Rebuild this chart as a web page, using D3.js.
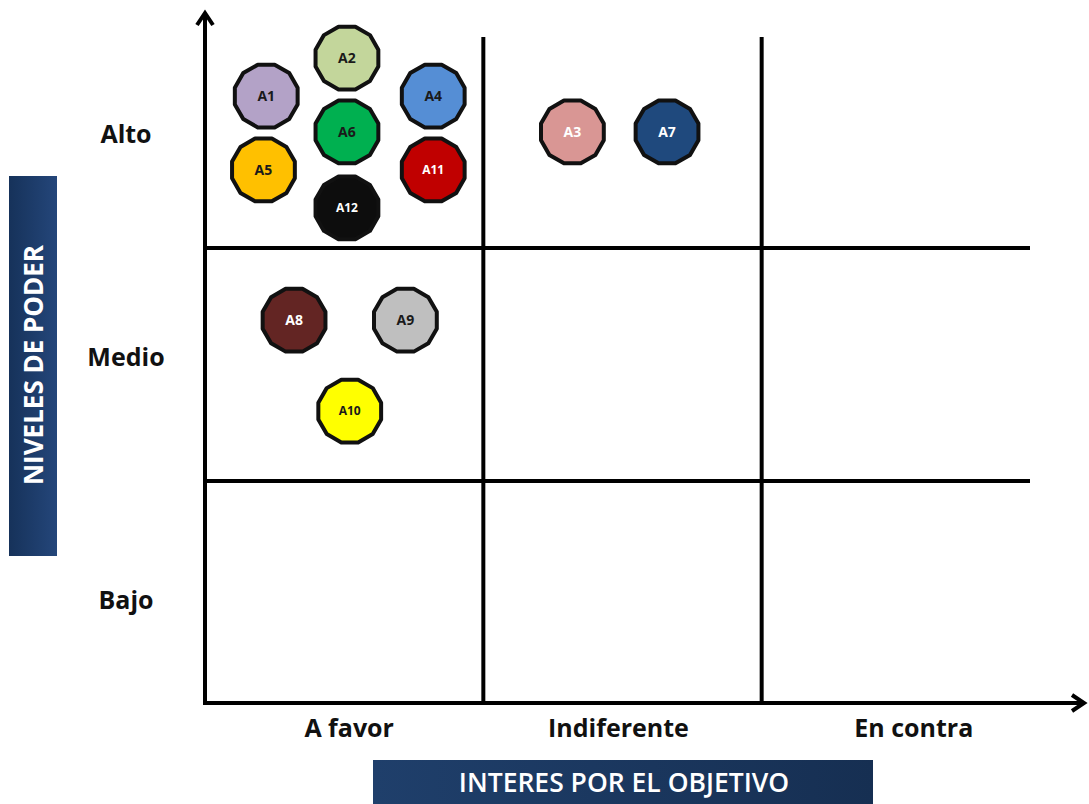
<!DOCTYPE html>
<html>
<head>
<meta charset="utf-8">
<script src="https://cdn.jsdelivr.net/npm/d3@7"></script>
<style>
  body { margin: 0; background: #fff; }
  text { font-family: "Open Sans", Lato, sans-serif; }
</style>
</head>
<body>
<script>
// power levels (bottom to top) and interest levels (left to right)
let powerLevels = ["Bajo", "Medio", "Alto"];
let interestLevels = ["A favor", "Indiferente", "En contra"];

// stakeholders: interest (0..3) and power (0..3) positions inside the grid
let actorNames = ["A1", "A2", "A3", "A4", "A5", "A6", "A7", "A8", "A9", "A10", "A11", "A12"];
let actorInterest = [0.22, 0.51, 1.32, 0.82, 0.21, 0.51, 1.66, 0.32, 0.72, 0.52, 0.82, 0.51];
let actorPower = [2.72, 2.90, 2.55, 2.72, 2.37, 2.55, 2.55, 1.69, 1.69, 1.30, 2.37, 2.19];
let actorColors = ["#b3a2c7", "#c3d69b", "#d99694", "#558ed5", "#ffc000", "#00b050",
                   "#1f497d", "#632523", "#bfbfbf", "#ffff00", "#c00000", "#0d0d0d"];
let actorTextColors = ["#1a1a1a", "#1a1a1a", "#ffffff", "#1a1a1a", "#1a1a1a", "#1a1a1a",
                       "#ffffff", "#ffffff", "#1a1a1a", "#1a1a1a", "#ffffff", "#ffffff"];

let width = 1089, height = 804;

let svg = d3.select("body").append("svg")
    .attr("width", width)
    .attr("height", height);

// scales (rows are not all the same height in the original)
let x = d3.scaleLinear().domain([0, 3]).range([205, 1040]);
let y = d3.scaleLinear().domain([0, 1, 2, 3]).range([703, 481, 248, 37]);

// label boxes gradient
let defs = svg.append("defs");
let gradV = defs.append("linearGradient").attr("id", "boxGradV")
    .attr("x1", "0%").attr("y1", "0%").attr("x2", "100%").attr("y2", "0%");
gradV.append("stop").attr("offset", "0%").attr("stop-color", "#16325a");
gradV.append("stop").attr("offset", "100%").attr("stop-color", "#24467a");
let gradH = defs.append("linearGradient").attr("id", "boxGradH")
    .attr("x1", "0%").attr("y1", "0%").attr("x2", "100%").attr("y2", "0%");
gradH.append("stop").attr("offset", "0%").attr("stop-color", "#1f3f6b");
gradH.append("stop").attr("offset", "100%").attr("stop-color", "#162f52");

/////////////// grid lines //////////////////
let grid = svg.append("g").attr("class", "grid")
    .attr("stroke", "#000").attr("stroke-width", 4);

grid.selectAll("line.v")
    .data([1, 2]).enter().append("line")
    .attr("class", "v")
    .attr("x1", d => x(d)).attr("x2", d => x(d))
    .attr("y1", y(3)).attr("y2", y(0));

grid.selectAll("line.h")
    .data([1, 2]).enter().append("line")
    .attr("class", "h")
    .attr("x1", x(0)).attr("x2", x(3) - 10)
    .attr("y1", d => y(d)).attr("y2", d => y(d));

/////////////// axes with arrows //////////////////
let axes = svg.append("g").attr("class", "axes")
    .attr("stroke", "#000").attr("stroke-width", 4)
    .attr("fill", "none").attr("stroke-linecap", "butt");

// vertical axis
axes.append("line")
    .attr("x1", x(0)).attr("x2", x(0))
    .attr("y1", y(0) + 2).attr("y2", 13);
axes.append("path")
    .attr("d", "M" + (x(0) - 8) + ",25L" + x(0) + ",13L" + (x(0) + 8) + ",25")
    .attr("stroke-linejoin", "miter");

// horizontal axis
axes.append("line")
    .attr("x1", x(0) - 2).attr("x2", 1084)
    .attr("y1", y(0)).attr("y2", y(0));
axes.append("path")
    .attr("d", "M1072," + (y(0) - 8) + "L1084," + y(0) + "L1072," + (y(0) + 8))
    .attr("stroke-linejoin", "miter");

/////////////// tick labels //////////////////
svg.append("g").selectAll("text")
    .data(powerLevels).enter().append("text")
    .attr("x", 126)
    .attr("y", (d, i) => y(i + 0.5) + [8, -7, -8][i])
    .attr("dy", "0.35em")
    .attr("text-anchor", "middle")
    .style("font-weight", "bold")
    .style("font-size", "25px")
    .attr("fill", "#111")
    .text(d => d);

svg.append("g").selectAll("text")
    .data(interestLevels).enter().append("text")
    .attr("x", (d, i) => x(i + 0.5) + [5, -4, 13][i])
    .attr("y", 728)
    .attr("dy", "0.35em")
    .attr("text-anchor", "middle")
    .style("font-weight", "bold")
    .style("font-size", "25px")
    .attr("fill", "#111")
    .text(d => d);

/////////////// axis titles //////////////////
svg.append("rect")
    .attr("x", 9).attr("y", 176)
    .attr("width", 48).attr("height", 380)
    .attr("fill", "url(#boxGradV)");
svg.append("text")
    .attr("transform", "translate(34,365) rotate(-90)")
    .attr("dy", "0.35em")
    .attr("text-anchor", "middle")
    .style("font-weight", "bold")
    .style("font-size", "26px")
    .attr("fill", "#fff")
    .text("NIVELES DE PODER");

svg.append("rect")
    .attr("x", 373).attr("y", 760)
    .attr("width", 500).attr("height", 44)
    .attr("fill", "url(#boxGradH)");
svg.append("text")
    .attr("x", 624).attr("y", 783)
    .attr("dy", "0.35em")
    .attr("text-anchor", "middle")
    .style("font-weight", 600)
    .style("font-size", "26.5px")
    .attr("fill", "#fff")
    .text("INTERES POR EL OBJETIVO");

/////////////// stakeholders //////////////////
let radius = 32.5, sides = 12;
let polygon = d3.lineRadial()
    .angle(d => d * 2 * Math.PI / sides + Math.PI / sides)
    .radius(radius)
    .curve(d3.curveLinearClosed);

let actors = svg.append("g").attr("class", "actors")
    .selectAll("g")
    .data(actorNames).enter().append("g")
    .attr("transform", (d, i) => "translate(" + x(actorInterest[i]) + "," + y(actorPower[i]) + ")");

actors.append("path")
    .attr("d", polygon(d3.range(sides)))
    .attr("fill", (d, i) => actorColors[i])
    .attr("stroke", "#111")
    .attr("stroke-width", 4)
    .attr("stroke-linejoin", "round");

actors.append("text")
    .attr("dy", "0.35em")
    .attr("text-anchor", "middle")
    .style("font-weight", "bold")
    .style("font-size", d => d.length > 2 ? "12px" : "14px")
    .attr("fill", (d, i) => actorTextColors[i])
    .text(d => d);
</script>
</body>
</html>
